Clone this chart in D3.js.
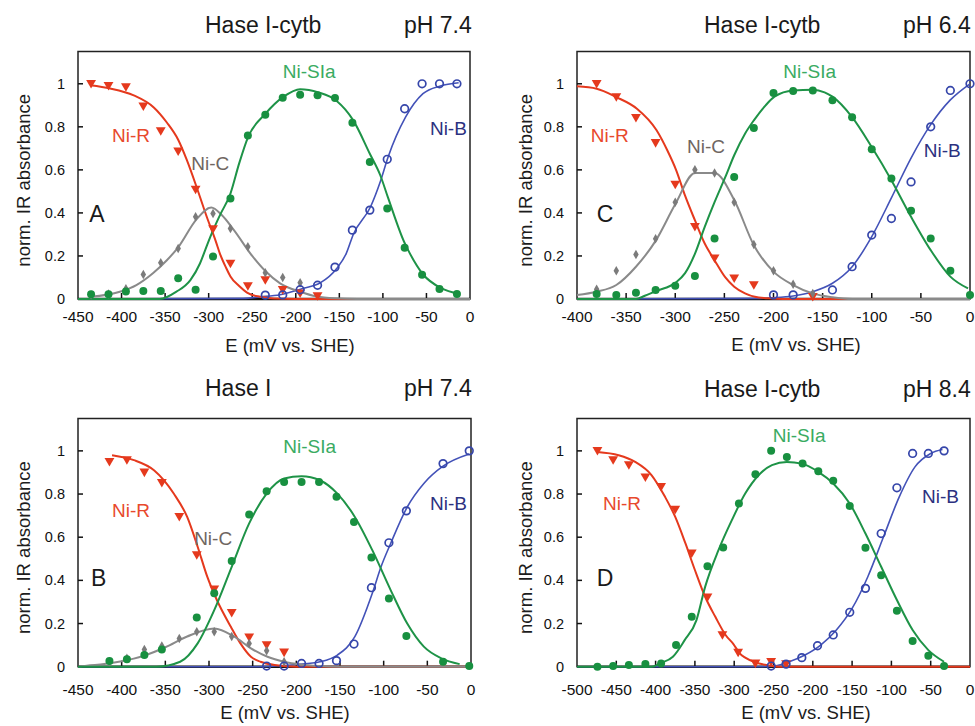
<!DOCTYPE html>
<html>
<head>
<meta charset="utf-8">
<script src="https://cdn.jsdelivr.net/npm/d3@7"></script>
<style>
  body { margin: 0; background: #fff; }
  svg { display: block; font-family: "Liberation Sans", Arial, sans-serif; }
</style>
</head>
<body>
<script>
// tick labels
const yTicks = [0, 0.2, 0.4, 0.6, 0.8, 1];
const xTicksA = [-450, -400, -350, -300, -250, -200, -150, -100, -50, 0];
const xTicksC = [-400, -350, -300, -250, -200, -150, -100, -50, 0];
const xTicksD = [-500, -450, -400, -350, -300, -250, -200, -150, -100, -50, 0];

// ---- panel A : Hase I-cytb, pH 7.4 (measured points [E, abs])
const aNiR = [[-435,1.0],[-415,0.99],[-395,0.985],[-375,0.895],[-355,0.78],[-335,0.686],[-315,0.508],[-295,0.325],[-275,0.165],[-255,0.06],[-235,0.088],[-215,0.042],[-195,0.026],[-175,0.014]];
const aNiC = [[-435,0.019],[-415,0.023],[-395,0.048],[-375,0.114],[-355,0.168],[-335,0.235],[-315,0.382],[-295,0.397],[-275,0.328],[-255,0.243],[-235,0.122],[-215,0.10],[-195,0.076]];
const aNiS = [[-435,0.022],[-415,0.022],[-395,0.035],[-375,0.037],[-355,0.037],[-335,0.096],[-315,0.043],[-295,0.198],[-275,0.467],[-255,0.76],[-235,0.856],[-215,0.935],[-195,0.949],[-175,0.947],[-155,0.934],[-135,0.819],[-115,0.637],[-95,0.42],[-75,0.238],[-55,0.113],[-35,0.047],[-15,0.023]];
const aNiB = [[-235,0.018],[-215,0.019],[-195,0.043],[-175,0.064],[-155,0.148],[-135,0.32],[-115,0.413],[-95,0.649],[-75,0.884],[-55,1.0],[-35,1.0],[-15,1.0]];
// fit curves
const aFitR = [[-436,0.993],[-413,0.978],[-386,0.946],[-363,0.89],[-348,0.82],[-335,0.74],[-325,0.645],[-313,0.51],[-302,0.38],[-292,0.27],[-287,0.21],[-280,0.145],[-275,0.105],[-265,0.06],[-256,0.03],[-241,0.01],[-225,0.002],[-200,0],[0,0]];
const aFitC = [[-436,0.01],[-402,0.034],[-383,0.065],[-364,0.12],[-348,0.18],[-335,0.24],[-314,0.37],[-297,0.425],[-285,0.39],[-271,0.32],[-250,0.2],[-235,0.13],[-218,0.073],[-195,0.034],[-176,0.012],[-155,0.003],[-130,0],[0,0]];
const aFitS = [[-450,0],[-356,0],[-337,0.034],[-321,0.088],[-310,0.165],[-304,0.227],[-298,0.29],[-287,0.39],[-275,0.49],[-265,0.63],[-255,0.75],[-235,0.86],[-214,0.94],[-195,0.975],[-174,0.96],[-153,0.92],[-134,0.83],[-115,0.675],[-103,0.575],[-94,0.47],[-75,0.26],[-71,0.227],[-54,0.115],[-33,0.05],[-13,0.023]];
const aFitB = [[-450,0],[-260,0.003],[-241,0.01],[-218,0.02],[-191,0.05],[-172,0.075],[-153,0.142],[-142,0.212],[-134,0.3],[-114,0.43],[-103,0.545],[-94,0.66],[-74,0.845],[-54,0.954],[-34,0.99],[-13,1.005]];

// ---- panel C : Hase I-cytb, pH 6.4
const cNiR = [[-380,1.0],[-360,0.938],[-340,0.842],[-320,0.725],[-300,0.532],[-280,0.335],[-260,0.189],[-240,0.096],[-220,0.065],[-160,0.01]];
const cNiC = [[-380,0.045],[-360,0.131],[-340,0.207],[-320,0.28],[-300,0.45],[-280,0.60],[-260,0.586],[-240,0.45],[-220,0.253],[-200,0.131],[-180,0.068],[-160,0.026]];
const cNiS = [[-380,0.023],[-360,0.019],[-340,0.029],[-320,0.042],[-300,0.062],[-280,0.107],[-260,0.281],[-240,0.567],[-220,0.794],[-200,0.957],[-180,0.966],[-160,0.969],[-140,0.923],[-120,0.845],[-100,0.696],[-80,0.56],[-60,0.41],[-40,0.281],[-20,0.131],[0,0.019]];
const cNiB = [[-200,0.019],[-180,0.019],[-140,0.042],[-120,0.15],[-100,0.297],[-80,0.374],[-60,0.544],[-40,0.8],[-20,0.969],[0,1.0]];
const cFitR = [[-400,0.988],[-380,0.977],[-360,0.938],[-339,0.884],[-319,0.784],[-308,0.69],[-299,0.598],[-290,0.48],[-280,0.366],[-270,0.258],[-260,0.18],[-249,0.1],[-240,0.057],[-229,0.026],[-219,0.01],[-205,0.003],[-190,0],[0,0]];
const cFitC = [[-400,0.019],[-380,0.034],[-360,0.065],[-340,0.15],[-320,0.27],[-300,0.44],[-280,0.586],[-260,0.586],[-240,0.46],[-220,0.25],[-200,0.127],[-180,0.065],[-160,0.026],[-140,0.008],[-120,0],[0,0]];
const cFitS = [[-400,0],[-340,0],[-331,0.015],[-319,0.038],[-300,0.075],[-290,0.12],[-280,0.21],[-270,0.335],[-260,0.45],[-249,0.567],[-240,0.668],[-229,0.768],[-220,0.83],[-208,0.9],[-199,0.94],[-180,0.969],[-160,0.972],[-148,0.96],[-140,0.94],[-120,0.845],[-100,0.706],[-80,0.552],[-60,0.382],[-40,0.227],[-20,0.104],[-2,0.049]];
const cFitB = [[-400,0],[-220,0.003],[-200,0.006],[-180,0.014],[-160,0.034],[-140,0.073],[-120,0.15],[-100,0.29],[-80,0.47],[-60,0.655],[-40,0.81],[-20,0.925],[0,1.0]];

// ---- panel B : Hase I, pH 7.4
const bNiR = [[-414,0.949],[-394,0.957],[-374,0.9],[-354,0.852],[-334,0.694],[-314,0.517],[-294,0.358],[-274,0.25],[-254,0.136],[-234,0.1],[-214,0.066]];
const bNiC = [[-414,0.023],[-394,0.039],[-374,0.08],[-354,0.096],[-334,0.131],[-314,0.162],[-294,0.162],[-274,0.14],[-254,0.108],[-234,0.074],[-214,0.023]];
const bNiS = [[-414,0.026],[-394,0.035],[-374,0.054],[-354,0.08],[-314,0.228],[-294,0.34],[-274,0.49],[-254,0.705],[-234,0.813],[-214,0.856],[-194,0.856],[-174,0.856],[-154,0.787],[-134,0.671],[-114,0.506],[-94,0.316],[-74,0.142],[-32,0.023],[-2,0.003]];
const bNiB = [[-234,0.003],[-214,0.003],[-194,0.015],[-174,0.015],[-154,0.028],[-134,0.105],[-114,0.366],[-94,0.574],[-74,0.722],[-32,0.941],[-2,1.0]];
const bFitR = [[-411,0.98],[-386,0.957],[-363,0.91],[-340,0.80],[-325,0.694],[-313,0.556],[-302,0.417],[-291,0.309],[-275,0.185],[-264,0.108],[-252,0.046],[-241,0.023],[-225,0.008],[-200,0],[0,0]];
const bFitC = [[-450,0],[-440,0.005],[-420,0.012],[-400,0.025],[-375,0.05],[-350,0.09],[-325,0.14],[-294,0.177],[-271,0.139],[-252,0.085],[-233,0.046],[-214,0.023],[-195,0.01],[-175,0.003],[-150,0],[0,0]];
const bFitS = [[-450,0],[-360,0],[-333,0.023],[-313,0.108],[-294,0.262],[-274,0.463],[-254,0.664],[-234,0.802],[-214,0.872],[-194,0.883],[-173,0.864],[-153,0.802],[-133,0.694],[-113,0.54],[-92,0.355],[-73,0.2],[-54,0.093],[-34,0.039],[-13,0.012]];
const bFitB = [[-450,0],[-240,0],[-200,0.01],[-173,0.023],[-153,0.054],[-133,0.139],[-113,0.34],[-103,0.463],[-92,0.571],[-73,0.74],[-54,0.849],[-32,0.929],[-2,0.985]];

// ---- panel D : Hase I-cytb, pH 8.4
const dNiR = [[-474,1.0],[-454,0.957],[-434,0.934],[-413,0.877],[-393,0.833],[-375,0.728],[-354,0.525],[-334,0.321],[-315,0.147],[-295,0.065],[-273,0.015],[-253,0.023],[-234,0.012]];
const dNiS = [[-474,0],[-454,0.003],[-434,0.008],[-413,0.012],[-393,0.015],[-374,0.1],[-354,0.231],[-334,0.466],[-314,0.552],[-294,0.756],[-273,0.892],[-253,1.0],[-233,0.972],[-213,0.941],[-193,0.906],[-174,0.861],[-153,0.745],[-133,0.551],[-113,0.424],[-93,0.259],[-73,0.119],[-53,0.051],[-33,0.003]];
const dNiB = [[-253,0.003],[-234,0.012],[-214,0.042],[-194,0.097],[-174,0.147],[-153,0.252],[-133,0.363],[-113,0.617],[-93,0.829],[-73,0.988],[-53,0.988],[-33,1.0]];
const dFitR = [[-474,0.995],[-447,0.98],[-426,0.949],[-405,0.887],[-388,0.787],[-375,0.694],[-362,0.571],[-350,0.448],[-337,0.324],[-324,0.231],[-311,0.147],[-301,0.105],[-293,0.062],[-286,0.042],[-273,0.02],[-256,0.006],[-240,0],[0,0]];
const dFitS = [[-500,0],[-405,0],[-394,0.016],[-378,0.046],[-363,0.123],[-348,0.216],[-337,0.37],[-320,0.54],[-303,0.679],[-286,0.802],[-269,0.887],[-252,0.934],[-233,0.949],[-214,0.941],[-193,0.903],[-174,0.849],[-153,0.756],[-133,0.617],[-113,0.463],[-93,0.309],[-73,0.17],[-53,0.077],[-33,0.023]];
const dFitB = [[-500,0],[-270,0],[-250,0.003],[-230,0.023],[-210,0.054],[-190,0.1],[-170,0.17],[-150,0.27],[-130,0.417],[-110,0.602],[-90,0.787],[-70,0.926],[-50,0.988],[-35,1.006]];

const col = {
  R: "#e5391d", Rt: "#e8492c",
  C: "#8a8a8a", Cd: "#7b7b7b", Ct: "#6f6661",
  S: "#1e9347", Sd: "#189040", St: "#3aab62",
  B: "#4352b8", Bd: "#3646aa", Bt: "#2c3180"
};

// layout of the four panels
const panels = [
  { letter: "A", enzyme: "Hase I-cytb", ph: "pH 7.4", left: 78, right: 470, top: 51.5, bottom: 299,
    dom: [-450, 0], ticks: xTicksA, tickDy: 23, titleY: 33, xlabY: 352, xlabX: 290, ylabX: 23,
    pts: { R: aNiR, C: aNiC, S: aNiS, B: aNiB }, fits: { R: aFitR, C: aFitC, S: aFitS, B: aFitB },
    lab: { letter: [-437, 0.357], R: [-411, 0.728], C: [-320, 0.598], S: [-215, 1.029], B: [-46, 0.76] } },
  { letter: "C", enzyme: "Hase I-cytb", ph: "pH 6.4", left: 577, right: 970, top: 51.5, bottom: 299,
    dom: [-400, 0], ticks: xTicksC, tickDy: 23, titleY: 33, xlabY: 351, xlabX: 796, ylabX: 525,
    pts: { R: cNiR, C: cNiC, S: cNiS, B: cNiB }, fits: { R: cFitR, C: cFitC, S: cFitS, B: cFitB },
    lab: { letter: [-380, 0.357], R: [-386, 0.728], C: [-288, 0.677], S: [-190, 1.029], B: [-47, 0.658] } },
  { letter: "B", enzyme: "Hase I", ph: "pH 7.4", left: 78, right: 471, top: 418.5, bottom: 666.7,
    dom: [-450, 0], ticks: xTicksA, tickDy: 28, titleY: 396, xlabY: 719, xlabX: 285, ylabX: 23,
    pts: { R: bNiR, C: bNiC, S: bNiS, B: bNiB }, fits: { R: bFitR, C: bFitC, S: bFitS, B: bFitB },
    lab: { letter: [-435, 0.374], R: [-411, 0.693], C: [-317, 0.563], S: [-215, 0.989], B: [-47, 0.725] } },
  { letter: "D", enzyme: "Hase I-cytb", ph: "pH 8.4", left: 577, right: 970, top: 418.5, bottom: 666.7,
    dom: [-500, 0], ticks: xTicksD, tickDy: 28, titleY: 397, xlabY: 719, xlabX: 806, ylabX: 525,
    pts: { R: dNiR, S: dNiS, B: dNiB }, fits: { R: dFitR, S: dFitS, B: dFitB },
    lab: { letter: [-475, 0.374], R: [-467, 0.725], S: [-251, 1.04], B: [-61, 0.758] } }
];

const names = { R: "Ni-R", C: "Ni-C", S: "Ni-SIa", B: "Ni-B" };

const svg = d3.select("body").append("svg")
  .attr("width", 975).attr("height", 726);

function drawPanel(p) {
  const x = d3.scaleLinear().domain(p.dom).range([p.left, p.right]);
  const y = d3.scaleLinear().domain([0, 1.15]).range([p.bottom, p.top]);
  const g = svg.append("g");

  // frame
  g.append("rect")
    .attr("x", p.left).attr("y", p.top)
    .attr("width", p.right - p.left).attr("height", p.bottom - p.top)
    .attr("fill", "none").attr("stroke", "#222").attr("stroke-width", 1.5);
  g.append("line")
    .attr("x1", p.left).attr("x2", p.right).attr("y1", p.bottom).attr("y2", p.bottom)
    .attr("stroke", "#111").attr("stroke-width", 2.5);

  // x ticks (inward) and labels
  g.selectAll(".xt").data(p.ticks.filter(t => t !== p.dom[0] && t !== p.dom[1])).enter()
    .append("line")
    .attr("x1", d => x(d)).attr("x2", d => x(d))
    .attr("y1", p.bottom).attr("y2", p.bottom - 6)
    .attr("stroke", "#111").attr("stroke-width", 1.5);
  g.selectAll(".xl").data(p.ticks).enter()
    .append("text")
    .attr("x", d => x(d)).attr("y", p.bottom + p.tickDy)
    .attr("text-anchor", "middle").attr("font-size", 15.5).attr("fill", "#111")
    .text(d => d);

  // y ticks and labels
  g.selectAll(".yt").data(yTicks.filter(t => t > 0)).enter()
    .append("line")
    .attr("x1", p.left).attr("x2", p.left + 5)
    .attr("y1", d => y(d)).attr("y2", d => y(d))
    .attr("stroke", "#111").attr("stroke-width", 1.5);
  g.selectAll(".yl").data(yTicks).enter()
    .append("text")
    .attr("x", p.left - 13).attr("y", d => y(d) + 5)
    .attr("text-anchor", "end").attr("font-size", 14.5).attr("fill", "#111")
    .text(d => d);

  // axis titles
  g.append("text")
    .attr("x", p.xlabX).attr("y", p.xlabY)
    .attr("text-anchor", "middle").attr("font-size", 18.5).attr("fill", "#1c1c1c")
    .text("E (mV vs. SHE)");
  g.append("text")
    .attr("transform", `translate(${p.ylabX},${(p.top + p.bottom) / 2 + 5}) rotate(-90)`)
    .attr("text-anchor", "middle").attr("dominant-baseline", "central")
    .attr("font-size", 18.5).attr("fill", "#1c1c1c")
    .text("norm. IR absorbance");

  // panel titles
  g.append("text")
    .attr("x", p.left + 127).attr("y", p.titleY)
    .attr("font-size", 23).attr("fill", "#1a1a1a").text(p.enzyme);
  g.append("text")
    .attr("x", p.left + 326).attr("y", p.titleY)
    .attr("font-size", 23).attr("fill", "#1a1a1a").text(p.ph);

  // fit curves
  const line = d3.line().x(d => x(d[0])).y(d => y(d[1])).curve(d3.curveMonotoneX);
  ["B", "R", "C", "S"].forEach(k => {
    if (!p.fits[k]) return;
    g.append("path").datum(p.fits[k])
      .attr("d", line).attr("fill", "none")
      .attr("stroke", col[k]).attr("stroke-width", k === "B" ? 1.6 : 2)
      .attr("stroke-linejoin", "round");
  });

  // measured points
  if (p.pts.R) {
    g.selectAll(".pR").data(p.pts.R).enter().append("path")
      .attr("d", d3.symbol(d3.symbolTriangle, 42)())
      .attr("transform", d => `translate(${x(d[0])},${y(d[1]) - 1}) rotate(180)`)
      .attr("fill", col.R);
  }
  if (p.pts.C) {
    g.selectAll(".pC").data(p.pts.C).enter().append("path")
      .attr("d", d3.symbol(d3.symbolDiamond, 26)())
      .attr("transform", d => `translate(${x(d[0])},${y(d[1])})`)
      .attr("fill", col.Cd);
  }
  g.selectAll(".pS").data(p.pts.S).enter().append("circle")
    .attr("cx", d => x(d[0])).attr("cy", d => y(d[1])).attr("r", 4)
    .attr("fill", col.Sd);
  g.selectAll(".pB").data(p.pts.B).enter().append("circle")
    .attr("cx", d => x(d[0])).attr("cy", d => y(d[1])).attr("r", 3.8)
    .attr("fill", "none").attr("stroke", col.Bd).attr("stroke-width", 1.7);

  // species labels and panel letter
  const tcol = { R: col.Rt, C: col.Ct, S: col.St, B: col.Bt };
  Object.keys(names).forEach(k => {
    if (!p.lab[k]) return;
    g.append("text")
      .attr("x", x(p.lab[k][0])).attr("y", y(p.lab[k][1]))
      .attr("font-size", 19).attr("fill", tcol[k]).text(names[k]);
  });
  g.append("text")
    .attr("x", x(p.lab.letter[0])).attr("y", y(p.lab.letter[1]))
    .attr("font-size", 23).attr("fill", "#1a1a1a").text(p.letter);
}

panels.forEach(drawPanel);
</script>
</body>
</html>
